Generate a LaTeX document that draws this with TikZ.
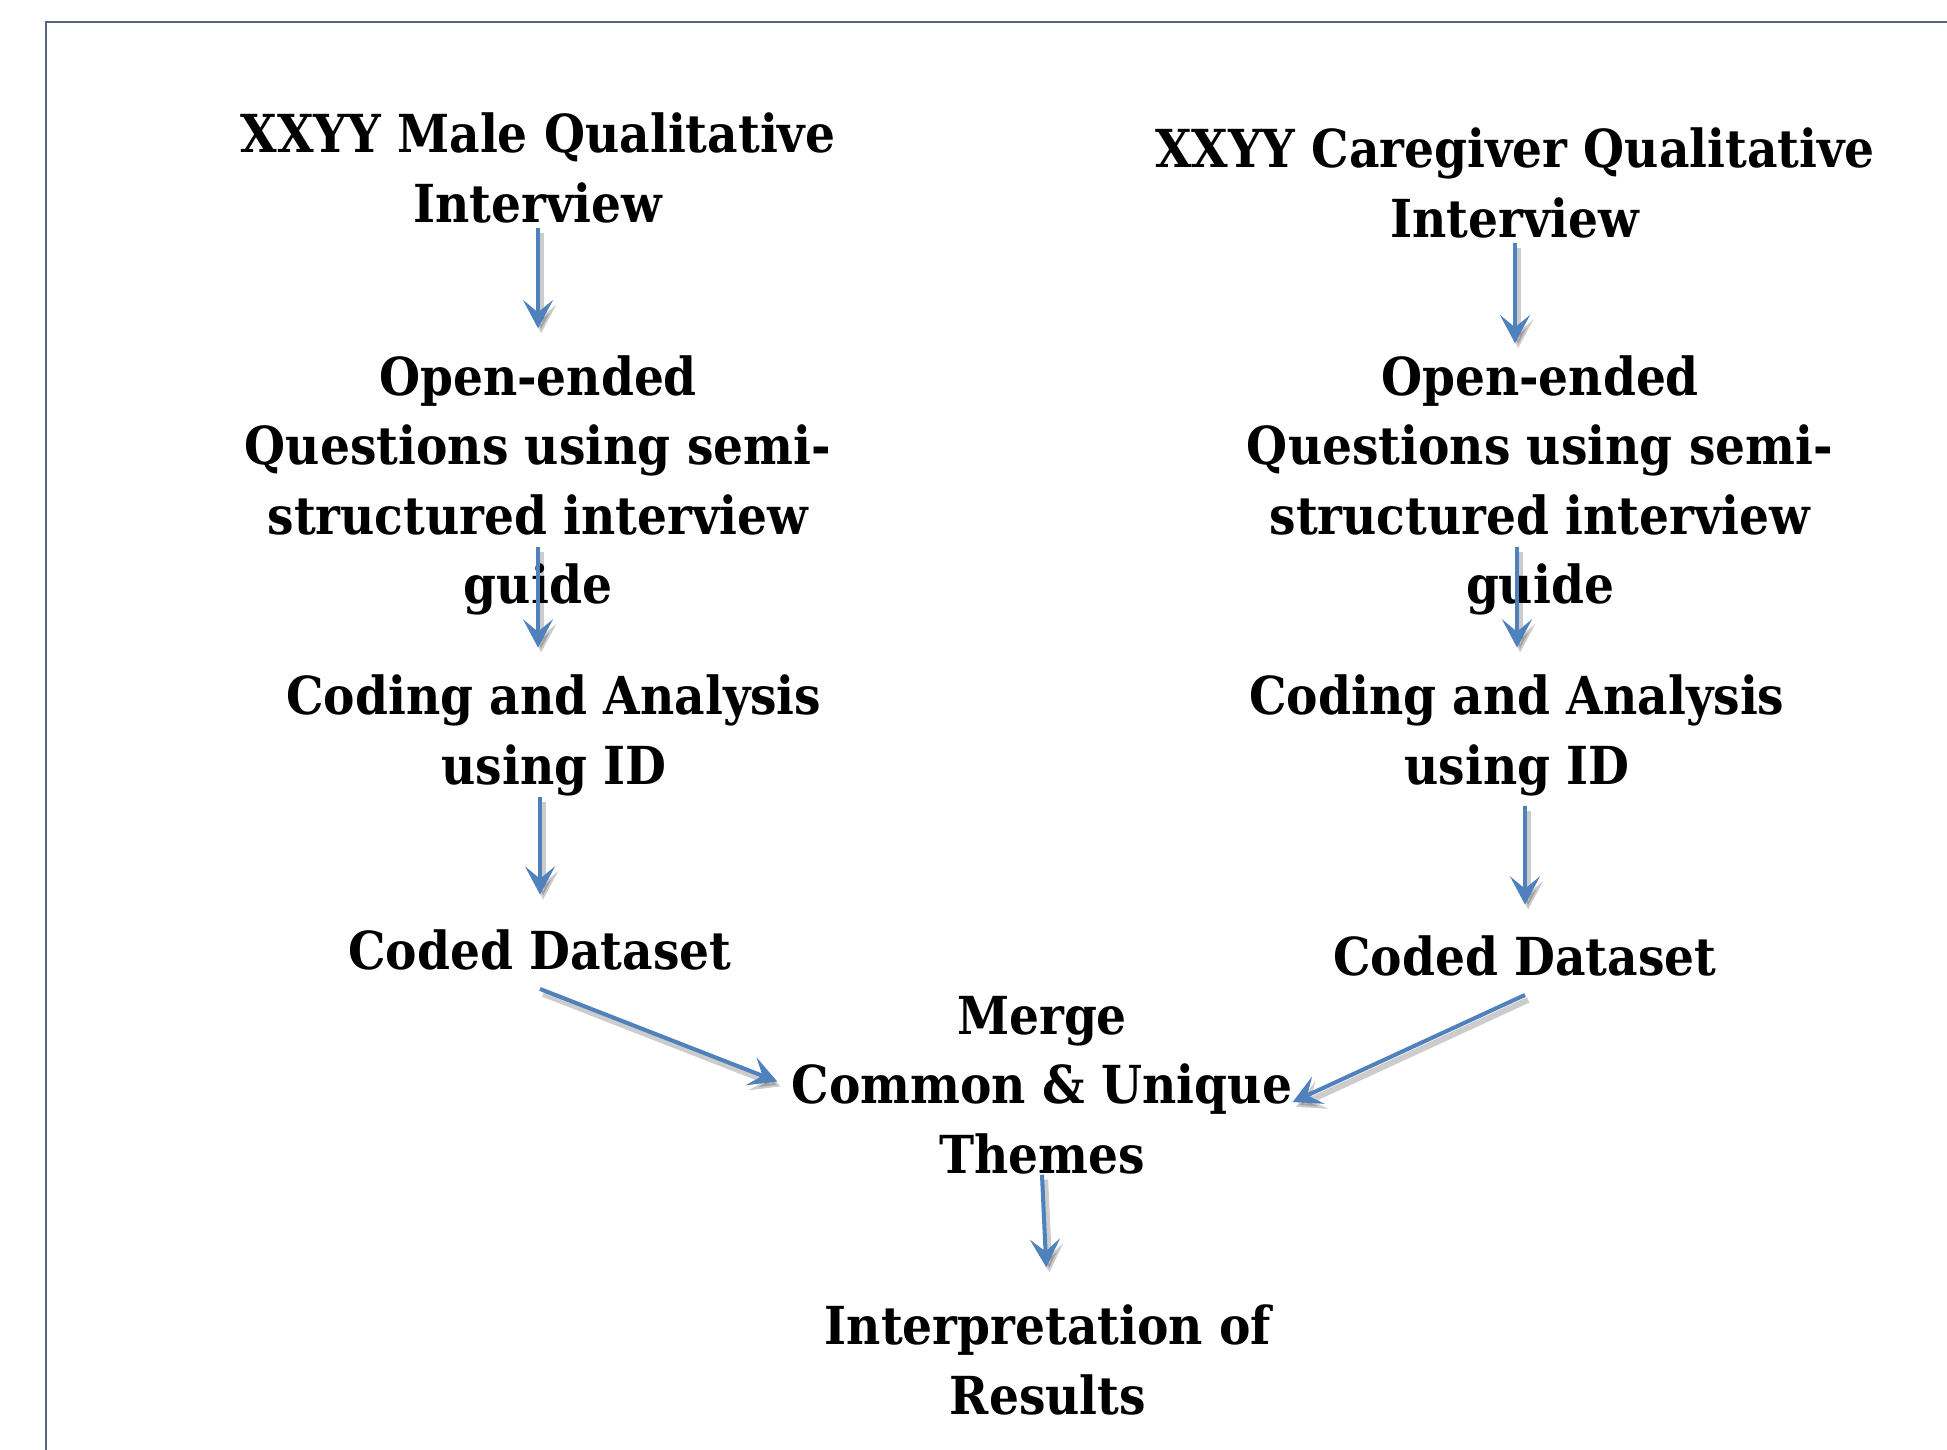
\documentclass[tikz,border=0pt]{standalone}
\usepackage{fontspec}
\setmainfont{DejaVu Serif Condensed}
\usetikzlibrary{arrows.meta}
\definecolor{flowblue}{RGB}{79,129,189}
\definecolor{framegray}{RGB}{88,102,122}
\begin{document}
\begin{tikzpicture}[
 every node/.style={inner sep=0pt,align=center,
 font=\bfseries\fontsize{14.9}{19.8}\selectfont},
 flow/.style={draw=flowblue,line width=1.15pt,
 -{Stealth[length=8pt,width=8.5pt,inset=3.5pt]},
 preaction={draw=black,opacity=.2,line width=1.7pt,
 transform canvas={shift={(.9pt,-1.4pt)}}}},
 ]
 \useasboundingbox (0,0) rectangle (19.47,-14.50);
 \draw[framegray,line width=.6pt] (.46,-14.50) -- (.46,-.22) -- (19.47,-.22);
 \path
 (5.38,-1.68) node (maleL) {XXYY Male Qualitative\\Interview} % left column
 (5.38,-4.855) node (openL) {Open-ended\\Questions using semi-\\structured interview\\guide}
 (5.54,-7.357) node (codingL) {Coding and Analysis\\using ID}
 (5.40,-9.50) node (codedL) {Coded Dataset}
 (15.15,-1.83) node (maleR) {XXYY Caregiver Qualitative\\Interview} % right column
 (15.40,-4.855) node (openR) {Open-ended\\Questions using semi-\\structured interview\\guide}
 (15.17,-7.357) node (codingR) {Coding and Analysis\\using ID}
 (15.25,-9.56) node (codedR) {Coded Dataset}
 (10.42,-10.85) node (merge) {Merge\\Common \& Unique\\Themes} % bottom
 (10.48,-13.60) node (interp) {Interpretation of\\Results};
 \draw[flow,shorten <=.04cm,shorten >=.265cm] (maleL.south) -- (openL.north);
 \draw[flow,shorten <=-.695cm,shorten >=.27cm] (openL.south) -- (openL.south |- codingL.north);
 \draw[flow,shorten >=.345cm] (codedL.north |- codingL.south) -- (codedL.north);
 \draw[flow,shorten <=.04cm,shorten >=.115cm] (maleR.south) -- (maleR.south |- openR.north);
 \draw[flow,shorten <=-.695cm,shorten >=.27cm] (codingR.north |- openR.south) -- (codingR.north);
 \draw[flow,shorten <=.09cm,shorten >=.305cm] (codedR.north |- codingR.south) -- (codedR.north);
 \draw[flow,shorten >=.15cm] ([yshift=-.18cm]codedL.south) -- ([yshift=-.02cm]merge.west);
 \draw[flow] ([yshift=-.18cm]codedR.south) -- ([yshift=-.17cm]merge.east);
 \draw[flow,shorten >=.37cm] (merge.south) -- (interp.north);
\end{tikzpicture}
\end{document}
